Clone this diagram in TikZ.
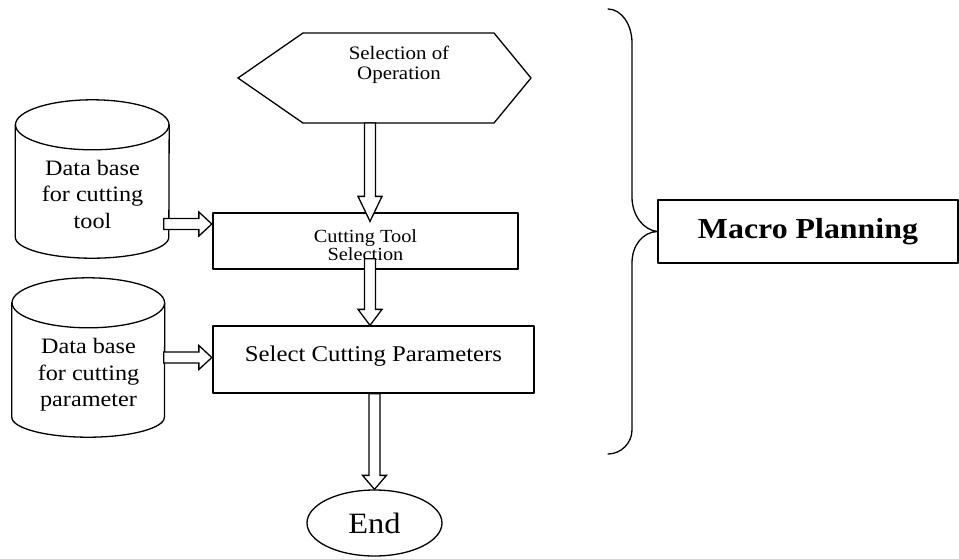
\documentclass[tikz,border=0pt]{standalone}
\usepackage{fontspec}
\setmainfont{Liberation Serif}[FakeStretch=1.1]
\usetikzlibrary{calc,shapes.geometric}

\tikzset{
  fat/.style={draw,fill=white,line width=1.3pt,line join=miter},
  box/.style={draw,line width=1.3pt,rectangle,inner sep=0pt,align=center},
  drum/.style={rectangle,inner sep=0pt},
  dbtext/.style={inner sep=0pt,align=center,font=\fontsize{22}{26.5}\selectfont},
  outline/.style={line width=1.3pt},
}

% hollow block arrow from #2 to #3, head length #1
\newcommand\fatarrow[3][14pt]{%
  \path (#2) coordinate (fa-s) (#3) coordinate (fa-t);
  \path ($(fa-t)!#1!(fa-s)$) coordinate (fa-h);
  \draw[fat] ($(fa-s)!5.5pt!90:(fa-t)$) -- ($(fa-h)!5.5pt!90:(fa-t)$)
    -- ($(fa-h)!12pt!90:(fa-t)$) -- (fa-t) -- ($(fa-h)!12pt!-90:(fa-t)$)
    -- ($(fa-h)!5.5pt!-90:(fa-t)$) -- ($(fa-s)!5.5pt!-90:(fa-t)$) -- cycle;}

\begin{document}
\begin{tikzpicture}[x=1pt,y=-1pt,line cap=round,line join=round]
\useasboundingbox (0,0) rectangle (959,558);
\path
(238,78) coordinate (H1)
(303,33) coordinate (H2)
(494,33) coordinate (H3)
(531,78) coordinate (H4)
(494,123) coordinate (H5)
(303,123) coordinate (H6)
(370,123) coordinate (hexbot)
;
\draw[outline,line join=miter] (H1)--(H2)--(H3)--(H4)--(H5)--(H6)--cycle;
\node[align=center,inner sep=0pt,font=\fontsize{19}{20}\selectfont] (sel) at (399,65) {Selection of\\Operation};

\node[box,minimum width=305pt,minimum height=56pt,font=\fontsize{18.5}{18}\selectfont]
  (cts) at (365.5,241) {\rule{0pt}{22pt}Cutting Tool\\Selection};
\node[box,minimum width=321pt,minimum height=67pt,font=\fontsize{22.5}{26}\selectfont]
  (cps) at (373.5,359.5) {\rule[-10.75pt]{0pt}{10.75pt}Select Cutting Parameters};

% data base drums
\node[drum,minimum width=153.5pt,minimum height=158pt] (db1) at (92.25,179) {};
\draw[outline] ($(db1.north west)+(0,25)$) -- ($(db1.south west)+(0,-21)$)
  arc[start angle=180,end angle=360,x radius=76.75pt,y radius=21pt]
  -- ($(db1.north east)+(0,25)$);
\draw[outline] ($(db1.north)+(0,25)$) ellipse[x radius=76.75pt,y radius=25pt];
\node[dbtext] (db1t) at (92.5,194) {Data base\\for cutting\\tool};

\node[drum,minimum width=152.6pt,minimum height=159pt] (db2) at (88.3,357.5) {};
\draw[outline] ($(db2.north west)+(0,25)$) -- ($(db2.south west)+(0,-20)$)
  arc[start angle=180,end angle=360,x radius=76.3pt,y radius=20pt]
  -- ($(db2.north east)+(0,25)$);
\draw[outline] ($(db2.north)+(0,25)$) ellipse[x radius=76.3pt,y radius=25pt];
\node[dbtext] (db2t) at (88.5,375) {Data base\\for cutting\\parameter};

\node[draw,ellipse,line width=1.3pt,minimum width=135pt,minimum height=66pt,inner sep=0pt,
  font=\fontsize{29.5}{30}\selectfont] (end) at (374.5,523) {End};

\node[box,minimum width=300pt,minimum height=63pt,font=\bfseries\fontsize{29}{30}\selectfont]
  (macro) at (808,231.5) {Macro Planning};

% brace
\draw[outline] (608,9) .. controls (621,9) and (632,24) .. (632,43) -- (632,197)
  .. controls (632,215) and (643,230) .. (macro.west)
  .. controls (643,232) and (632,245) .. (632,263) -- (632,430)
  .. controls (632,443) and (621,454) .. (608,454);

\coordinate (in1) at ($(cts.west)+(-0.5,-17)$);
\coordinate (in2) at ($(cps.west)+(-0.5,-2)$);

\fatarrow[25pt]{hexbot}{$(hexbot |- cts.north)+(0,9)$}
\fatarrow[16pt]{$(hexbot |- cts.south)+(0,-11)$}{$(hexbot |- cps.north)$}
\fatarrow[14pt]{$(end.north |- cps.south)$}{end.north}
\fatarrow[13pt]{$(db1.east |- in1)+(-5.4,0)$}{in1}
\fatarrow[13pt]{$(db2.east |- in2)+(-1,0)$}{in2}
\end{tikzpicture}
\end{document}
